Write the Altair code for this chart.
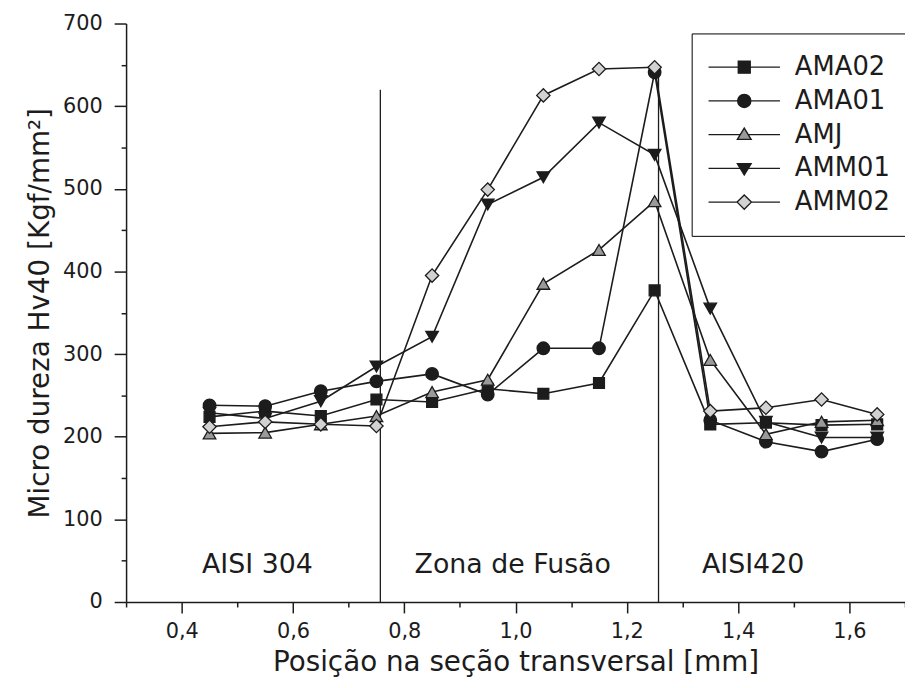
import altair as alt
import pandas as pd

# ---------------- data ----------------
positions = [0.45, 0.55, 0.65, 0.75, 0.85, 0.95, 1.05, 1.15, 1.25, 1.35, 1.45, 1.55, 1.65]
series_names = ["AMA02", "AMA01", "AMJ", "AMM01", "AMM02"]

ama02 = [224, 231, 225, 245, 242, 258, 252, 265, 377, 215, 217, 214, 215]
ama01 = [238, 237, 255, 267, 276, 251, 307, 307, 641, 220, 194, 182, 197]
amj = [204, 205, 215, 225, 254, 269, 385, 426, 485, 293, 203, 218, 220]
amm01 = [229, 222, 243, 285, 321, 481, 514, 580, 541, 355, 218, 199, 199]
amm02 = [212, 218, 215, 213, 395, 499, 613, 645, 647, 231, 235, 245, 227]
series_values = [ama02, ama01, amj, amm01, amm02]

region_labels = ["AISI 304", "Zona de Fusão", "AISI420"]
region_x = [0.536, 0.995, 1.427]
region_y = [45, 45, 45]

boundary_x = [0.757, 1.257]
boundary_bottom = [0, 0]
boundary_top = [620, 640]

x_ticks = [round(0.3 + 0.1 * i, 1) for i in range(15)]
y_ticks = list(range(0, 701, 50))

# ---------------- styles ----------------
FONT = "DejaVu Sans"
INK = "#1c1c1c"
marker_shapes = ["square", "circle", "triangle-up", "triangle-down", "diamond"]
marker_fills = [INK, INK, "#9a9a9a", INK, "#d2d2d2"]
marker_sizes = [120, 160, 160, 160, 180]
legend_paths = [
    "M-6,0H-1M1,0H6M-1,-1H1V1H-1Z",
    "M-6,0H-1.1M1.1,0H6M-1.1,0A1.1,1.1 0 1,0 1.1,0A1.1,1.1 0 1,0 -1.1,0Z",
    "M-6,0H-0.6M0.6,0H6M0,-1.1L1.15,0.8L-1.15,0.8Z",
    "M-6,0H-0.6M0.6,0H6M0,1.1L1.15,-0.8L-1.15,-0.8Z",
    "M-6,0H-1.2M1.2,0H6M0,-1.2L1.2,0L0,1.2L-1.2,0Z",
]

rows = []
for name, vals in zip(series_names, series_values):
    for xv, v in zip(positions, vals):
        rows.append({"pos": xv, "hv": v, "serie": name})
df = pd.DataFrame(rows)

regions = pd.DataFrame({"label": region_labels, "x": region_x, "y": region_y})
bounds = pd.DataFrame({"x": boundary_x, "y0": boundary_bottom, "y1": boundary_top})

x_scale = alt.Scale(domain=[0.3, 1.7], nice=False, zero=False)
y_scale = alt.Scale(domain=[0, 700], nice=False)

x_axis = alt.Axis(
    title="Posição na seção transversal [mm]",
    values=x_ticks,
    labelExpr="round(datum.value*10) % 2 == 0 ? replace(format(datum.value, '.1f'), '.', ',') : ''",
    tickSize={"condition": {"test": "round(datum.value*10) % 2 == 0", "value": 11}, "value": 5},
    labelPadding=8,
    titlePadding=7,
    labelFlush=False,
    labelOverlap=False,
)
y_axis = alt.Axis(
    title="Micro dureza Hv40 [Kgf/mm²]",
    values=y_ticks,
    labelExpr="datum.value % 100 == 0 ? datum.label : ''",
    tickSize={"condition": {"test": "datum.value % 100 == 0", "value": 12}, "value": 5},
    labelPadding=12,
    titlePadding=8,
    labelOverlap=False,
)

base = alt.Chart(df)

lines = base.mark_line(color=INK, strokeWidth=1.6).encode(
    x=alt.X("pos:Q", scale=x_scale, axis=x_axis),
    y=alt.Y("hv:Q", scale=y_scale, axis=y_axis),
    detail="serie:N",
    order="pos:Q",
)

point_layers = []
for name, shp, fc, sz in zip(series_names, marker_shapes, marker_fills, marker_sizes):
    point_layers.append(
        base.transform_filter(alt.datum.serie == name)
        .mark_point(shape=shp, filled=True, fill=fc, stroke=INK, strokeWidth=1.3, size=sz, opacity=1)
        .encode(x="pos:Q", y="hv:Q")
    )


def legend_def():
    return alt.Legend(
        title=None,
        orient="none",
        legendX=570,
        legendY=10,
        strokeColor="black",
        fillColor="white",
        padding=21,
        symbolSize=144,
        symbolOffset=19,
        symbolStrokeWidth=1.4,
        labelFont=FONT,
        labelFontSize=26,
        labelColor=INK,
        labelOffset=38,
        rowPadding=8,
        offset=0,
    )


legend_layer = (
    base.transform_filter("datum.hv < 0")
    .mark_point(filled=True, strokeWidth=1.4, opacity=1)
    .encode(
        x="pos:Q",
        y="hv:Q",
        shape=alt.Shape("serie:N", scale=alt.Scale(domain=series_names, range=legend_paths), legend=legend_def()),
        fill=alt.Fill("serie:N", scale=alt.Scale(domain=series_names, range=marker_fills), legend=legend_def()),
        stroke=alt.Stroke("serie:N", scale=alt.Scale(domain=series_names, range=[INK] * 5), legend=legend_def()),
    )
)

rules = alt.Chart(bounds).mark_rule(color=INK, strokeWidth=1.3).encode(
    x="x:Q", y="y0:Q", y2="y1:Q"
)

texts = alt.Chart(regions).mark_text(
    font=FONT, fontSize=27, color=INK, baseline="middle", align="center"
).encode(x="x:Q", y="y:Q", text="label:N")

chart = (
    alt.layer(rules, lines, *point_layers, legend_layer, texts)
    .properties(
        width=785,
        height=583,
        padding={"left": 119, "top": 13, "right": 0, "bottom": 80},
        autosize=alt.AutoSizeParams(type="none"),
        background="white",
    )
    .configure_view(stroke=None)
    .configure_axis(
        domainColor=INK,
        domainWidth=1.5,
        tickColor=INK,
        tickWidth=1.5,
        grid=False,
        labelFont=FONT,
        labelFontSize=21,
        labelColor=INK,
        titleFont=FONT,
        titleFontSize=28,
        titleFontWeight="normal",
        titleColor=INK,
    )
)

chart.save("out.html", embed_options={"renderer": "svg", "actions": False})
